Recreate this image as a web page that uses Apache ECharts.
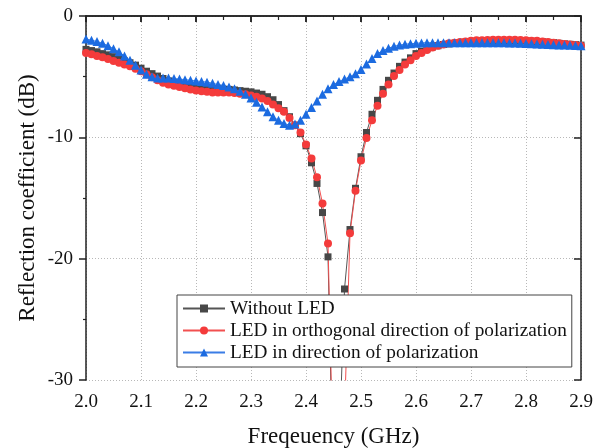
<!DOCTYPE html>
<html>
<head>
<meta charset="utf-8">
<script src="https://cdn.jsdelivr.net/npm/echarts@6/dist/echarts.min.js"></script>
<style>
html, body { margin: 0; padding: 0; background: #fff; }
#chart { width: 608px; height: 448px; }
</style>
</head>
<body>
<div id="chart"></div>
<script>
// measured reflection, one sample every 0.01 GHz from 2.00 to 2.90
var seriesNames = ['Without LED', 'LED in orthogonal direction of polarization', 'LED in direction of polarization'];
var xTicks = ['2.0', '2.1', '2.2', '2.3', '2.4', '2.5', '2.6', '2.7', '2.8', '2.9'];
var yTicks = [-30, -20, -10, 0];

var noLed = [
    -2.75, -2.85, -2.95, -3.1, -3.2, -3.35, -3.55, -3.7, -3.85, -4.05,
    -4.3, -4.55, -4.75, -4.95, -5.15, -5.35, -5.5, -5.6, -5.7, -5.78,
    -5.85, -5.9, -5.95, -6.0, -6.0, -6.05, -6.05, -6.1, -6.15, -6.2,
    -6.25, -6.35, -6.45, -6.65, -6.9, -7.3, -7.8, -8.3, -9.0, -9.7,
    -10.7, -12.1, -13.8, -16.2, -19.85, -40, -36, -22.5, -17.6, -14.2,
    -11.6, -9.6, -8.1, -6.95, -6.05, -5.3, -4.7, -4.15, -3.8, -3.45,
    -3.1, -2.9, -2.7, -2.55, -2.45, -2.35, -2.3, -2.25, -2.2, -2.15,
    -2.1, -2.08, -2.05, -2.03, -2.02, -2.02, -2.02, -2.02, -2.02, -2.03,
    -2.05, -2.08, -2.1, -2.13, -2.17, -2.2, -2.25, -2.3, -2.33, -2.37, -2.4
];
var ledOrtho = [
    -3.05, -3.15, -3.3, -3.4, -3.55, -3.7, -3.85, -4.0, -4.15, -4.35,
    -4.55, -4.8, -5.05, -5.3, -5.5, -5.65, -5.75, -5.85, -5.95, -6.05,
    -6.15, -6.2, -6.25, -6.3, -6.3, -6.3, -6.3, -6.35, -6.4, -6.45,
    -6.55, -6.65, -6.8, -7.0, -7.3, -7.6, -7.9, -8.4, -9.0, -9.6,
    -10.6, -11.75, -13.3, -15.45, -18.75, -38, -36, -33, -17.9, -14.4,
    -11.9, -10.05, -8.6, -7.4, -6.4, -5.65, -4.95, -4.45, -4.0, -3.65,
    -3.3, -3.05, -2.8, -2.6, -2.45, -2.35, -2.25, -2.2, -2.15, -2.1,
    -2.05, -2.0, -2.0, -1.97, -1.95, -1.95, -1.95, -1.95, -1.95, -1.97,
    -2.0, -2.05, -2.05, -2.1, -2.15, -2.2, -2.25, -2.3, -2.35, -2.4, -2.45
];
var ledPara = [
    -1.9, -2.0, -2.1, -2.25, -2.45, -2.7, -2.95, -3.3, -3.65, -4.05,
    -4.45, -4.8, -5.0, -5.1, -5.1, -5.12, -5.15, -5.2, -5.25, -5.3,
    -5.35, -5.4, -5.45, -5.55, -5.65, -5.72, -5.85, -6.0, -6.2, -6.45,
    -6.75, -7.1, -7.5, -7.9, -8.3, -8.6, -8.85, -9.0, -8.9, -8.6,
    -8.1, -7.55, -7.0, -6.45, -6.0, -5.65, -5.4, -5.2, -5.0, -4.75,
    -4.4, -3.95, -3.5, -3.1, -2.85, -2.65, -2.5, -2.4, -2.33, -2.28,
    -2.25, -2.22, -2.2, -2.2, -2.2, -2.2, -2.2, -2.2, -2.2, -2.2,
    -2.2, -2.2, -2.2, -2.2, -2.2, -2.2, -2.2, -2.22, -2.23, -2.25,
    -2.27, -2.28, -2.3, -2.32, -2.34, -2.36, -2.38, -2.4, -2.42, -2.44, -2.46
];

var freq = noLed.map(function (v, i) { return +(2 + i * 0.01).toFixed(2); });

function pairs(vals) {
    return vals.map(function (v, i) { return [freq[i], v]; });
}

var font = 'Liberation Serif';
var axisColor = '#222';
var gridLine = { show: true, lineStyle: { color: '#b8b8b8', type: [1, 2], width: 1 } };

var myChart = echarts.init(document.getElementById('chart'), null, { renderer: 'canvas' });

myChart.setOption({
    animation: false,
    backgroundColor: '#fff',
    grid: { left: 86, right: 27, top: 16, bottom: 68, outerBoundsMode: 'none', containLabel: false },
    legend: {
        orient: 'vertical',
        left: 177,
        top: 295,
        padding: [4, 5, 5, 5],
        itemWidth: 42,
        itemHeight: 10,
        itemGap: 3,
        backgroundColor: '#fff',
        borderColor: '#444',
        borderWidth: 1,
        borderRadius: 0,
        data: seriesNames,
        textStyle: { fontFamily: font, fontSize: 19.3, color: '#111' }
    },
    xAxis: [{
        type: 'value',
        min: 2, max: 2.9, interval: 0.1,
        position: 'bottom',
        name: 'Freqeuency (GHz)',
        nameLocation: 'middle',
        nameGap: 45,
        nameMoveOverlap: false,
        nameTextStyle: { fontFamily: font, fontSize: 23, color: '#111' },
        axisLine: { lineStyle: { color: axisColor, width: 1.5 } },
        axisTick: { length: 6, lineStyle: { color: axisColor, width: 1.5 } },
        minorTick: { show: true, splitNumber: 2, length: 4, lineStyle: { color: axisColor, width: 1.2 } },
        axisLabel: {
            fontFamily: font, fontSize: 19, color: '#111', margin: 13,
            formatter: function (v) { return xTicks[Math.round((v - 2) * 10)]; }
        },
        splitLine: gridLine
    }, {
        type: 'value',
        min: 2, max: 2.9, interval: 0.1,
        position: 'top',
        axisLine: { lineStyle: { color: axisColor, width: 1.5 } },
        axisTick: { inside: true, length: 6, lineStyle: { color: axisColor, width: 1.5 } },
        axisLabel: { show: false },
        splitLine: { show: false }
    }],
    yAxis: [{
        type: 'value',
        min: -30, max: 0, interval: 10,
        position: 'left',
        name: 'Reflection coefficient (dB)',
        nameLocation: 'middle',
        nameGap: 47,
        nameMoveOverlap: false,
        nameTextStyle: { fontFamily: font, fontSize: 23, color: '#111' },
        axisLine: { lineStyle: { color: axisColor, width: 1.5 } },
        axisTick: { length: 7, lineStyle: { color: axisColor, width: 1.5 } },
        minorTick: { show: true, splitNumber: 2, length: 3, lineStyle: { color: axisColor, width: 1.2 } },
        axisLabel: {
            fontFamily: font, fontSize: 19, color: '#111', margin: 13,
            formatter: function (v) { return yTicks.indexOf(v) >= 0 ? String(v) : ''; }
        },
        splitLine: gridLine
    }, {
        type: 'value',
        min: -30, max: 0, interval: 10,
        position: 'right',
        axisLine: { lineStyle: { color: axisColor, width: 1.5 } },
        axisTick: { inside: true, length: 7, lineStyle: { color: axisColor, width: 1.5 } },
        axisLabel: { show: false },
        splitLine: { show: false }
    }],
    series: [{
        name: seriesNames[0],
        type: 'line',
        symbol: 'rect',
        symbolSize: 7,
        clip: true,
        color: '#474747',
        lineStyle: { color: '#555', width: 1 },
        data: pairs(noLed)
    }, {
        name: seriesNames[1],
        type: 'line',
        symbol: 'circle',
        symbolSize: 8,
        clip: true,
        color: '#f43b3b',
        lineStyle: { color: '#f25050', width: 1 },
        data: pairs(ledOrtho)
    }, {
        name: seriesNames[2],
        type: 'line',
        symbol: 'triangle',
        symbolSize: 9,
        clip: true,
        color: '#1c6be0',
        lineStyle: { color: '#3a7de6', width: 1 },
        data: pairs(ledPara)
    }]
});
</script>
</body>
</html>
